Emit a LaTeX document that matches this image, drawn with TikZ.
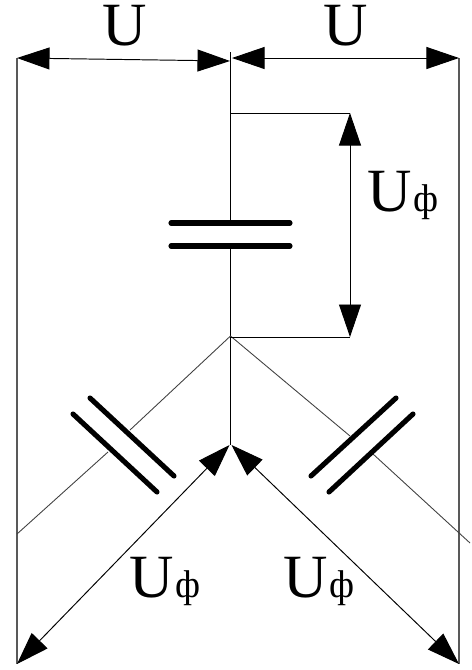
\documentclass[tikz,border=0pt]{standalone}
\usepackage{fontspec}
\setmainfont{Liberation Serif}
\usetikzlibrary{arrows.meta}
\tikzset{
    wire/.style={line width=0.55pt},
    rail/.style={line width=0.7pt,black!65},
    thin wire/.style={line width=0.5pt,black!75},
    plate/.style={line width=2.9pt,line cap=round},
    volt/.style={line width=0.55pt,{Triangle[length=18.5pt,width=12.5pt]}-{Triangle[length=18.5pt,width=12.5pt]}},
    lbl/.style={anchor=base,inner sep=0pt,font=\fontsize{35}{35}\selectfont},
}
\newcommand{\Uphase}{U\kern1pt{\fontsize{22}{22}\selectfont ф}}
\begin{document}
\begin{tikzpicture}[x=0.02cm,y=-0.02cm]
        \useasboundingbox (0,0) rectangle (471,670);
        % outer phases
        \coordinate (ltop) at (17,58);
        \coordinate (lbot) at (17,664);
        \coordinate (rtop) at (459,58);
        \coordinate (rbot) at (459,664);
        \draw[rail] (ltop) -- (lbot);
        \draw[rail] (rtop) -- (rbot);
        % middle branch
        \coordinate (ctop) at (230.5,52);
        \coordinate (cplateA) at (230.5,223);
        \coordinate (cplateB) at (230.5,246);
        \coordinate (star) at (230.5,336);
        \coordinate (cbot) at (230.5,445);
        \draw[wire] (ctop) -- (cplateA);
        \draw[wire] (cplateB) -- (cbot);
        \draw[plate] (171,223) -- (290,223);
        \draw[plate] (171,246) -- (290,246);
        % left branch
        \coordinate (lplateA) at (130,430);
        \coordinate (lplateB) at (108,452);
        \coordinate (lend) at (17,534);
        \draw[thin wire] (star) -- (lplateA);
        \draw[thin wire] (lplateB) -- (lend);
        \draw[plate] (90,398) -- (174,476);
        \draw[plate] (73,414) -- (157,492);
        % right branch
        \coordinate (rplateA) at (350,436);
        \coordinate (rplateB) at (373,454);
        \coordinate (rend) at (470,543);
        \draw[thin wire] (star) -- (rplateA);
        \draw[thin wire] (rplateB) -- (rend);
        \draw[plate] (396,398) -- (311,476);
        \draw[plate] (413,414) -- (329,492);
        % voltages
        \coordinate (ctopL) at (230,61);
        \coordinate (ctopR) at (232,58);
        \draw[volt] (ltop) -- (ctopL);
        \draw[volt] (ctopR) -- (rtop);
        \coordinate (phA) at (350,113);
        \coordinate (phB) at (350,337);
        \coordinate (phAw) at (230.5,113);
        \coordinate (phBw) at (230.5,337);
        \draw[wire] (phAw) -- (phA);
        \draw[wire] (phBw) -- (phB);
        \draw[volt] (phA) -- (phB);
        \coordinate (cbotL) at (229.5,445);
        \coordinate (cbotR) at (231.5,445);
        \draw[volt] (lbot) -- (cbotL);
        \draw[volt] (cbotR) -- (rbot);
        % labels
        \node[lbl] (uleft) at (125,45) {U};
        \node[lbl] (uright) at (346,45) {U};
        \node[lbl] (uphmid) at (403,211) {\Uphase};
        \node[lbl] (uphleft) at (165,597) {\Uphase};
        \node[lbl] (uphright) at (319,597) {\Uphase};
    \end{tikzpicture}
\end{document}
